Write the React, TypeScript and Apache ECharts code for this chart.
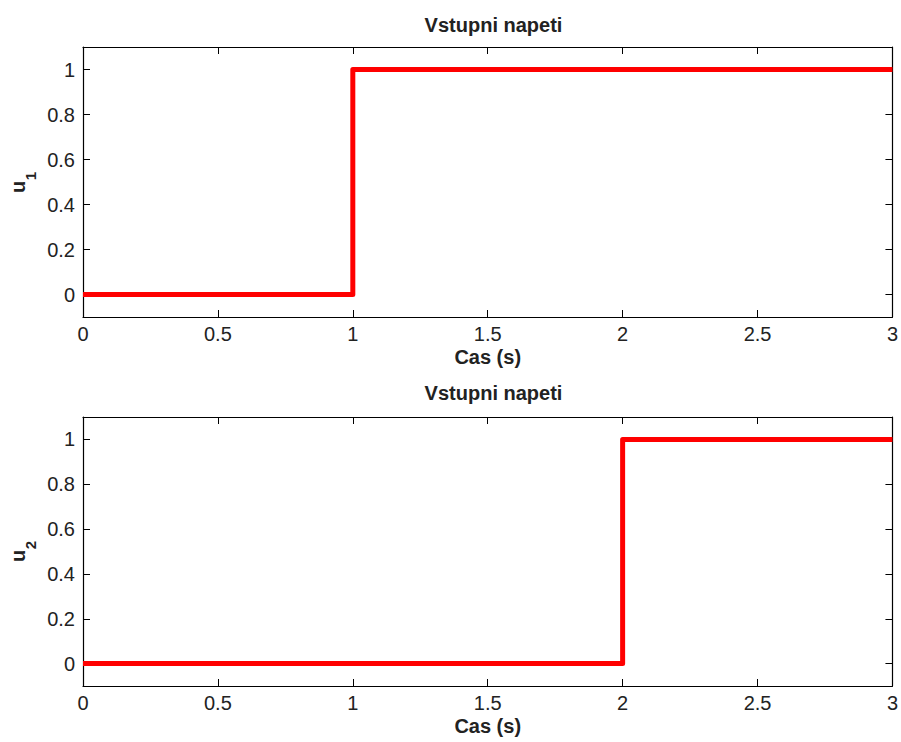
import React, { useEffect, useRef } from "react";
import * as echarts from "echarts";

const titleText = "Vstupni napeti";
const xAxisLabel = "Cas (s)";
const xTicks = [0, 0.5, 1, 1.5, 2, 2.5, 3];
const yTicks = [0, 0.2, 0.4, 0.6, 0.8, 1];
const time1 = [0, 1, 1, 3];
const u1 = [0, 0, 1, 1];
const time2 = [0, 2, 2, 3];
const u2 = [0, 0, 1, 1];

const FONT = "Liberation Sans, Arial, Helvetica, sans-serif";
const FS = 20;

export default function App() {
  const ref = useRef<HTMLDivElement>(null);
  useEffect(() => {
    if (!ref.current) return;
    const chart = echarts.init(ref.current, null, { renderer: "svg" });
    const grids = [
      { left: 83, top: 47, width: 811, height: 270 },
      { left: 83, top: 417, width: 811, height: 269 },
    ];
    const tickStyle = { color: "#000", width: 1 };
    const xAxes: any[] = [];
    const yAxes: any[] = [];
    grids.forEach((_, i) => {
      xAxes.push({
        type: "value",
        gridIndex: i,
        min: xTicks[0],
        max: xTicks[xTicks.length - 1],
        interval: 0.5,
        position: "bottom",
        name: xAxisLabel,
        nameLocation: "middle",
        nameGap: 30,
        nameTextStyle: { fontFamily: FONT, fontSize: FS, fontWeight: "bold", color: "#222" },
        axisLine: { show: true, onZero: false, lineStyle: { color: "#000", width: 1.2 } },
        axisTick: { show: true, inside: true, length: 7, lineStyle: tickStyle },
        axisLabel: { show: true, fontFamily: FONT, fontSize: FS, color: "#222", margin: 7, showMinLabel: true, showMaxLabel: true },
        splitLine: { show: false },
      });
      xAxes.push({
        type: "value",
        gridIndex: i,
        min: xTicks[0],
        max: xTicks[xTicks.length - 1],
        interval: 0.5,
        position: "top",
        axisLine: { show: true, onZero: false, lineStyle: { color: "#000", width: 1.2 } },
        axisTick: { show: true, inside: true, length: 7, lineStyle: tickStyle },
        axisLabel: { show: false },
        splitLine: { show: false },
      });
      yAxes.push({
        type: "value",
        gridIndex: i,
        min: -0.1,
        max: 1.1,
        position: "left",
        axisLine: { show: true, onZero: false, lineStyle: { color: "#000", width: 1.2 } },
        axisTick: { show: true, inside: true, length: 7, lineStyle: tickStyle, customValues: yTicks },
        axisLabel: {
          show: true,
          fontFamily: FONT,
          fontSize: FS,
          color: "#222",
          margin: 8,
          customValues: yTicks,
          formatter: (v: number) => String(Math.round(v * 10) / 10),
        },
        splitLine: { show: false },
      });
      yAxes.push({
        type: "value",
        gridIndex: i,
        min: -0.1,
        max: 1.1,
        position: "right",
        axisLine: { show: true, onZero: false, lineStyle: { color: "#000", width: 1.2 } },
        axisTick: { show: true, inside: true, length: 7, lineStyle: tickStyle, customValues: yTicks },
        axisLabel: { show: false, customValues: yTicks },
        splitLine: { show: false },
      });
    });

    const mkYLabel = (sub: string, cy: number) => ({
      type: "group",
      x: 18,
      y: cy,
      rotation: Math.PI / 2,
      children: [
        {
          type: "text",
          x: 0,
          y: 0,
          style: {
            text: "u",
            font: `bold ${FS}px ${FONT}`,
            fill: "#222",
            textAlign: "center",
            textVerticalAlign: "middle",
            align: "center",
            verticalAlign: "middle",
          },
        },
        {
          type: "text",
          x: 11,
          y: 12,
          style: {
            text: sub,
            font: `bold 15px ${FONT}`,
            fill: "#222",
            textAlign: "center",
            textVerticalAlign: "middle",
            align: "center",
            verticalAlign: "middle",
          },
        },
      ],
    });

    chart.setOption({
      animation: false,
      backgroundColor: "#fff",
      title: [
        {
          text: titleText,
          left: 488.5,
          top: 10,
          textAlign: "center",
          textStyle: { fontFamily: FONT, fontSize: FS, fontWeight: "bold", color: "#222" },
        },
        {
          text: titleText,
          left: 488.5,
          top: 378,
          textAlign: "center",
          textStyle: { fontFamily: FONT, fontSize: FS, fontWeight: "bold", color: "#222" },
        },
      ],
      grid: grids,
      xAxis: xAxes,
      yAxis: yAxes,
      graphic: [mkYLabel("1", 187), mkYLabel("2", 556)],
      series: [
        {
          type: "line",
          xAxisIndex: 0,
          yAxisIndex: 0,
          data: time1.map((t, k) => [t, u1[k]]),
          showSymbol: false,
          lineStyle: { color: "#ff0000", width: 5, join: "round", cap: "butt" },
          z: 1,
        },
        {
          type: "line",
          xAxisIndex: 2,
          yAxisIndex: 2,
          data: time2.map((t, k) => [t, u2[k]]),
          showSymbol: false,
          lineStyle: { color: "#ff0000", width: 5, join: "round", cap: "butt" },
          z: 1,
        },
      ],
    });
    return () => chart.dispose();
  }, []);
  return (
    <div
      ref={ref}
      style={{ position: "fixed", left: 0, top: 0, width: 901, height: 742 }}
    />
  );
}
